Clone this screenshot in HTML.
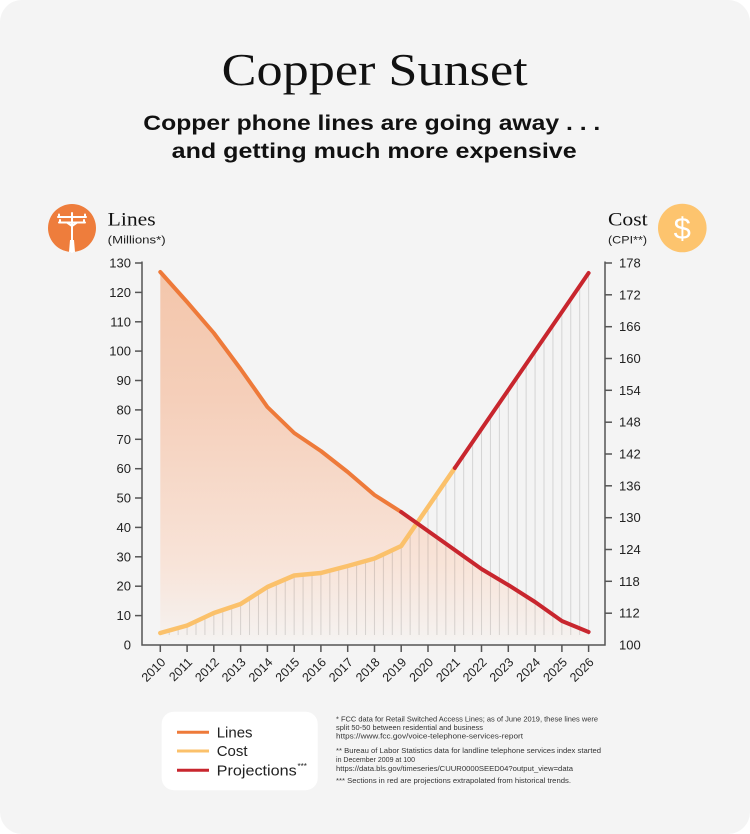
<!DOCTYPE html>
<html><head><meta charset="utf-8">
<style>
html,body{margin:0;padding:0;background:#fff;}
svg{display:block;}
text{font-family:"Liberation Sans",sans-serif;}
.serif{font-family:"Liberation Serif",serif;}
</style></head>
<body>
<svg width="750" height="834" viewBox="0 0 750 834" xmlns="http://www.w3.org/2000/svg">
<defs>
<linearGradient id="fillg" gradientUnits="userSpaceOnUse" x1="0" y1="272" x2="0" y2="640">
<stop offset="0" stop-color="#F3C6AB"/>
<stop offset="0.35" stop-color="#F5CFBA"/>
<stop offset="0.8" stop-color="#F8E4D9"/>
<stop offset="1" stop-color="#F5F2F0"/>
</linearGradient>
<pattern id="vl" patternUnits="userSpaceOnUse" x="159.8" y="0" width="8.923" height="20">
<rect x="0" y="0" width="1" height="20" fill="#000" fill-opacity="0.13"/>
</pattern>
</defs>
<rect x="0" y="0" width="750" height="834" rx="22" ry="22" fill="#F4F4F4"/>

<!-- Title -->
<text class="serif" x="221.7" y="85" font-size="45" fill="#111" textLength="306" lengthAdjust="spacingAndGlyphs">Copper Sunset</text>
<text x="143.3" y="130" font-size="21" font-weight="bold" fill="#111" textLength="457" lengthAdjust="spacingAndGlyphs">Copper phone lines are going away . . .</text>
<text x="171.7" y="158" font-size="21" font-weight="bold" fill="#111" textLength="405" lengthAdjust="spacingAndGlyphs">and getting much more expensive</text>

<!-- Left icon -->
<circle cx="72" cy="228" r="24" fill="#EE7D3C"/>
<g stroke="#fff" stroke-width="2" fill="none" stroke-linecap="round">
<line x1="72" y1="213" x2="72" y2="252"/>
<line x1="58" y1="217" x2="86" y2="217"/>
<line x1="59" y1="222.5" x2="85" y2="222.5"/>
<line x1="59" y1="214.5" x2="59" y2="217"/>
<line x1="85" y1="214.5" x2="85" y2="217"/>
<line x1="60" y1="220" x2="60" y2="222.5"/>
<line x1="84" y1="220" x2="84" y2="222.5"/>
<line x1="72" y1="226" x2="67" y2="222.5"/>
<line x1="72" y1="226" x2="77" y2="222.5"/>
</g>
<polygon points="70,240 74,240 75,252 69,252" fill="#fff"/>
<text class="serif" x="107.7" y="225.7" font-size="19" fill="#111" textLength="48" lengthAdjust="spacingAndGlyphs">Lines</text>
<text x="107.7" y="243.3" font-size="11" fill="#222" textLength="58" lengthAdjust="spacingAndGlyphs">(Millions*)</text>

<!-- Right icon -->
<circle cx="682.3" cy="228" r="24.3" fill="#FDC46E"/>
<text x="682.3" y="239" font-size="31" fill="#fff" text-anchor="middle">$</text>
<text class="serif" x="608" y="225.7" font-size="19" fill="#111" textLength="39.7" lengthAdjust="spacingAndGlyphs">Cost</text>
<text x="608" y="243.3" font-size="11" fill="#222" textLength="39" lengthAdjust="spacingAndGlyphs">(CPI**)</text>

<!-- Lines area fill -->
<polygon fill="url(#fillg)" points="160.3,272 187.1,302 213.8,333 240.6,369 267.4,407 294.2,433 320.9,451 347.7,472 374.5,495 401.2,512 428.0,531 454.8,550 481.5,569 508.3,585 535.1,602 561.9,621 588.6,632 588.6,640 160.3,640"/>

<!-- vertical lines under cost -->
<polygon fill="url(#vl)" points="160.3,635 160.3,635 187.1,627.5 213.8,615 240.6,606 267.4,589 294.2,577.5 320.9,575 347.7,568 374.5,560.5 401.2,548 428.0,509 454.8,470 481.5,431 508.3,392 535.1,353 561.9,314 589.6,275 589.6,635"/>

<!-- Axes -->
<g stroke="#555" stroke-width="1.5" fill="none">
<polyline points="142,261.5 142,645 605,645 605,261.5"/>
<line x1="135" y1="263" x2="142" y2="263"/>
<line x1="135" y1="292.4" x2="142" y2="292.4"/>
<line x1="135" y1="321.8" x2="142" y2="321.8"/>
<line x1="135" y1="351.1" x2="142" y2="351.1"/>
<line x1="135" y1="380.5" x2="142" y2="380.5"/>
<line x1="135" y1="409.9" x2="142" y2="409.9"/>
<line x1="135" y1="439.3" x2="142" y2="439.3"/>
<line x1="135" y1="468.7" x2="142" y2="468.7"/>
<line x1="135" y1="498.0" x2="142" y2="498.0"/>
<line x1="135" y1="527.4" x2="142" y2="527.4"/>
<line x1="135" y1="556.8" x2="142" y2="556.8"/>
<line x1="135" y1="586.2" x2="142" y2="586.2"/>
<line x1="135" y1="615.6" x2="142" y2="615.6"/>
<line x1="605" y1="263" x2="612" y2="263"/>
<line x1="605" y1="294.8" x2="612" y2="294.8"/>
<line x1="605" y1="326.7" x2="612" y2="326.7"/>
<line x1="605" y1="358.5" x2="612" y2="358.5"/>
<line x1="605" y1="390.3" x2="612" y2="390.3"/>
<line x1="605" y1="422.2" x2="612" y2="422.2"/>
<line x1="605" y1="454" x2="612" y2="454"/>
<line x1="605" y1="485.8" x2="612" y2="485.8"/>
<line x1="605" y1="517.7" x2="612" y2="517.7"/>
<line x1="605" y1="549.5" x2="612" y2="549.5"/>
<line x1="605" y1="581.3" x2="612" y2="581.3"/>
<line x1="605" y1="613.2" x2="612" y2="613.2"/>
<line x1="160.3" y1="645" x2="160.3" y2="652"/>
<line x1="187.1" y1="645" x2="187.1" y2="652"/>
<line x1="213.8" y1="645" x2="213.8" y2="652"/>
<line x1="240.6" y1="645" x2="240.6" y2="652"/>
<line x1="267.4" y1="645" x2="267.4" y2="652"/>
<line x1="294.2" y1="645" x2="294.2" y2="652"/>
<line x1="320.9" y1="645" x2="320.9" y2="652"/>
<line x1="347.7" y1="645" x2="347.7" y2="652"/>
<line x1="374.5" y1="645" x2="374.5" y2="652"/>
<line x1="401.2" y1="645" x2="401.2" y2="652"/>
<line x1="428.0" y1="645" x2="428.0" y2="652"/>
<line x1="454.8" y1="645" x2="454.8" y2="652"/>
<line x1="481.5" y1="645" x2="481.5" y2="652"/>
<line x1="508.3" y1="645" x2="508.3" y2="652"/>
<line x1="535.1" y1="645" x2="535.1" y2="652"/>
<line x1="561.9" y1="645" x2="561.9" y2="652"/>
<line x1="588.6" y1="645" x2="588.6" y2="652"/>
</g>

<g font-size="13" fill="#222" text-anchor="end">
<text x="131" y="267.5">130</text>
<text x="131" y="296.9">120</text>
<text x="131" y="326.3">110</text>
<text x="131" y="355.6">100</text>
<text x="131" y="385">90</text>
<text x="131" y="414.4">80</text>
<text x="131" y="443.8">70</text>
<text x="131" y="473.2">60</text>
<text x="131" y="502.5">50</text>
<text x="131" y="531.9">40</text>
<text x="131" y="561.3">30</text>
<text x="131" y="590.7">20</text>
<text x="131" y="620.1">10</text>
<text x="131" y="649.5">0</text>
</g>
<g font-size="13" fill="#222">
<text x="619" y="267.5">178</text>
<text x="619" y="299.3">172</text>
<text x="619" y="331.2">166</text>
<text x="619" y="363">160</text>
<text x="619" y="394.8">154</text>
<text x="619" y="426.7">148</text>
<text x="619" y="458.5">142</text>
<text x="619" y="490.3">136</text>
<text x="619" y="522.2">130</text>
<text x="619" y="554">124</text>
<text x="619" y="585.8">118</text>
<text x="619" y="617.7">112</text>
<text x="619" y="649.5">100</text>
</g>
<g font-size="12.5" fill="#222" text-anchor="end">
<text transform="translate(166.3,663) rotate(-45)">2010</text>
<text transform="translate(193.1,663) rotate(-45)">2011</text>
<text transform="translate(219.8,663) rotate(-45)">2012</text>
<text transform="translate(246.6,663) rotate(-45)">2013</text>
<text transform="translate(273.4,663) rotate(-45)">2014</text>
<text transform="translate(300.2,663) rotate(-45)">2015</text>
<text transform="translate(326.9,663) rotate(-45)">2016</text>
<text transform="translate(353.7,663) rotate(-45)">2017</text>
<text transform="translate(380.5,663) rotate(-45)">2018</text>
<text transform="translate(407.2,663) rotate(-45)">2019</text>
<text transform="translate(434.0,663) rotate(-45)">2020</text>
<text transform="translate(460.8,663) rotate(-45)">2021</text>
<text transform="translate(487.5,663) rotate(-45)">2022</text>
<text transform="translate(514.3,663) rotate(-45)">2023</text>
<text transform="translate(541.1,663) rotate(-45)">2024</text>
<text transform="translate(567.9,663) rotate(-45)">2025</text>
<text transform="translate(594.6,663) rotate(-45)">2026</text>
</g>

<g fill="none" stroke-linecap="round" stroke-linejoin="round">
<polyline stroke="#FBC16B" stroke-width="4.5" points="160.3,633 187.1,625.5 213.8,613 240.6,604 267.4,587 294.2,575.5 320.9,573 347.7,566 374.5,558.5 401.2,546 428.0,507 454.8,468"/>
<polyline stroke="#EE7A3A" stroke-width="4" points="160.3,272 187.1,302 213.8,333 240.6,369 267.4,407 294.2,433 320.9,451 347.7,472 374.5,495 401.2,512"/>
<polyline stroke="#C8262E" stroke-width="4" points="401.2,512 428.0,531 454.8,550 481.5,569 508.3,585 535.1,602 561.9,621 588.6,632"/>
<polyline stroke="#C8262E" stroke-width="4" points="454.8,468 481.5,429 508.3,390 535.1,351 561.9,312 588.6,273"/>
</g>

<rect x="161.7" y="711.7" width="156" height="78.5" rx="12" ry="12" fill="#FFFFFF"/>
<g stroke-width="3" stroke-linecap="butt">
<line x1="177" y1="732.3" x2="209" y2="732.3" stroke="#EE7A3A"/>
<line x1="177" y1="751" x2="209" y2="751" stroke="#FBC16B"/>
<line x1="177" y1="770.3" x2="209" y2="770.3" stroke="#C8262E"/>
</g>
<g font-size="15" fill="#222">
<text x="216.7" y="737.5">Lines</text>
<text x="216.7" y="756.2">Cost</text>
<text x="216.7" y="775.5" textLength="80" lengthAdjust="spacingAndGlyphs">Projections</text>
<text x="297.5" y="769" font-size="8">***</text>
</g>

<g font-size="7.3" fill="#333">
<text x="336" y="721.5" textLength="262" lengthAdjust="spacingAndGlyphs">* FCC data for Retail Switched Access Lines; as of June 2019, these lines were</text>
<text x="336" y="730" textLength="147" lengthAdjust="spacingAndGlyphs">split 50-50 between residential and business</text>
<text x="336" y="738.5" textLength="187" lengthAdjust="spacingAndGlyphs">https://www.fcc.gov/voice-telephone-services-report</text>
<text x="336" y="753" textLength="265" lengthAdjust="spacingAndGlyphs">** Bureau of Labor Statistics data for landline telephone services index started</text>
<text x="336" y="762" textLength="79" lengthAdjust="spacingAndGlyphs">in December 2009 at 100</text>
<text x="336" y="770.8" textLength="237" lengthAdjust="spacingAndGlyphs">https://data.bls.gov/timeseries/CUUR0000SEED04?output_view=data</text>
<text x="336" y="783" textLength="235" lengthAdjust="spacingAndGlyphs">*** Sections in red are projections extrapolated from historical trends.</text>
</g>
</svg>
</body></html>
